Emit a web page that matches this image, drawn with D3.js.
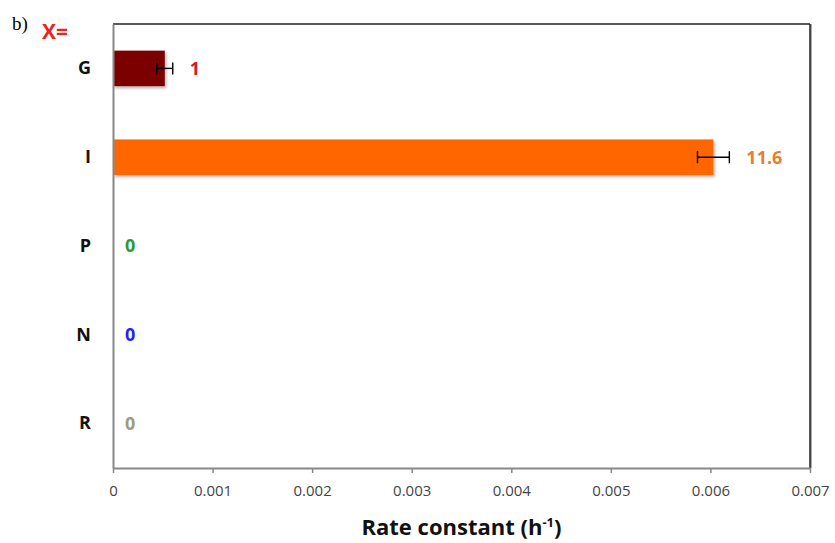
<!DOCTYPE html>
<html><head><meta charset="utf-8">
<script src="https://cdn.jsdelivr.net/npm/d3@7"></script>
<style>body{margin:0;background:#fff;} svg{display:block;}</style>
</head><body>
<svg id="c" width="835" height="543"></svg>
<script>
const categories = ["G", "I", "P", "N", "R"];
const values = [0.00052, 0.00603, 0, 0, 0];
const errors = [0.00008, 0.00016, 0, 0, 0];
const valueLabels = ["1", "11.6", "0", "0", "0"];
const barColors = ["#7b0000", "#ff6600", "#339933", "#3333ff", "#a09870"];
const labelColors = ["#cc1f1f", "#e67e2e", "#2e9a2e", "#2222ff", "#a09a78"];
const xTicks = [0, 0.001, 0.002, 0.003, 0.004, 0.005, 0.006, 0.007];

const svg = d3.select("#c");
const m = {l:113, t:24, r:810, b:468};
const x = d3.scaleLinear().domain([0, 0.007]).range([m.l, m.r]);
const y = d3.scaleBand().domain(categories).range([m.t, m.b]).paddingInner(0.6).paddingOuter(0.3);

const defs = svg.append("defs");
const f = defs.append("filter").attr("id","sh").attr("x","-5%").attr("y","-20%").attr("width","115%").attr("height","160%");
f.append("feDropShadow").attr("dx",1.5).attr("dy",2).attr("stdDeviation",1.5).attr("flood-color","#000").attr("flood-opacity",0.3);

// frame top/right
svg.append("line").attr("x1",m.l).attr("x2",m.r).attr("y1",m.t).attr("y2",m.t).attr("stroke","#222").attr("stroke-width",1.5);
svg.append("line").attr("x1",m.r+1).attr("x2",m.r+1).attr("y1",m.t).attr("y2",m.b).attr("stroke","#aaa").attr("stroke-width",2);
svg.append("line").attr("x1",m.r).attr("x2",m.r).attr("y1",m.t).attr("y2",m.b).attr("stroke","#222").attr("stroke-width",1.5);

// bars
const data = categories.map((c,i)=>({c, v:values[i], e:errors[i], lab:valueLabels[i], col:barColors[i], lc:labelColors[i]}));
svg.append("g").selectAll("rect").data(data).join("rect")
  .attr("x", x(0)).attr("y", d=>y(d.c)).attr("width", d=>x(d.v)-x(0)).attr("height", y.bandwidth())
  .attr("fill", d=>d.col).attr("filter","url(#sh)");

// error bars
const eg = svg.append("g").selectAll("g").data(data.filter(d=>d.e>0)).join("g").attr("stroke","#000").attr("stroke-width",1.4);
eg.append("line").attr("x1",d=>x(d.v-d.e)).attr("x2",d=>x(d.v+d.e)).attr("y1",d=>y(d.c)+y.bandwidth()/2).attr("y2",d=>y(d.c)+y.bandwidth()/2);
eg.append("line").attr("x1",d=>x(d.v-d.e)).attr("x2",d=>x(d.v-d.e)).attr("y1",d=>y(d.c)+y.bandwidth()/2-6).attr("y2",d=>y(d.c)+y.bandwidth()/2+6);
eg.append("line").attr("x1",d=>x(d.v+d.e)).attr("x2",d=>x(d.v+d.e)).attr("y1",d=>y(d.c)+y.bandwidth()/2-6).attr("y2",d=>y(d.c)+y.bandwidth()/2+6);

// value labels
svg.append("g").selectAll("text").data(data).join("text")
  .attr("x", d=>x(d.v+d.e) + (d.e>0?17:12)).attr("y", d=>y(d.c)+y.bandwidth()/2)
  .attr("dy","0.36em").attr("fill", d=>d.lc).attr("font-family","Open Sans, sans-serif").attr("font-weight","bold").attr("font-size",18)
  .text(d=>d.lab);

// y axis
const ya = svg.append("g").attr("transform",`translate(${m.l},0)`).call(d3.axisLeft(y).tickSize(0).tickPadding(22));
ya.select(".domain").attr("stroke","#888").attr("stroke-width",2);
ya.selectAll("text").attr("font-family","Open Sans, sans-serif").attr("font-weight","bold").attr("font-size",18).attr("fill","#111");

// x axis
const xa = svg.append("g").attr("transform",`translate(0,${m.b})`).call(d3.axisBottom(x).tickValues(xTicks).tickFormat(d=>d===0?"0":d3.format(".3f")(d)).tickSize(5).tickSizeOuter(0).tickPadding(12));
xa.select(".domain").attr("stroke","#888").attr("stroke-width",2);
xa.selectAll(".tick line").attr("stroke","#888").attr("stroke-width",1.5);
xa.selectAll("text").style("font-family","Open Sans, sans-serif").style("font-size","15px").attr("fill","#444");

// axis title
const t = svg.append("text").attr("x",(m.l+m.r)/2).attr("y",535).attr("text-anchor","middle")
  .attr("font-family","Open Sans, sans-serif").attr("font-weight","bold").attr("font-size",22).attr("fill","#111");
t.append("tspan").text("Rate constant (h");
t.append("tspan").attr("font-size",13).attr("dy",-8).text("-1");
t.append("tspan").attr("dy",8).text(")");

// top-left labels
svg.append("text").attr("x",12).attr("y",30).attr("font-family","Liberation Serif, serif").attr("font-size",19).attr("fill","#000").text("b)");
svg.append("text").attr("x",42).attr("y",39).attr("font-family","Open Sans, sans-serif").attr("font-weight","bold").attr("font-size",21).attr("fill","#ee2222").text("X=");
</script>
</body></html>
